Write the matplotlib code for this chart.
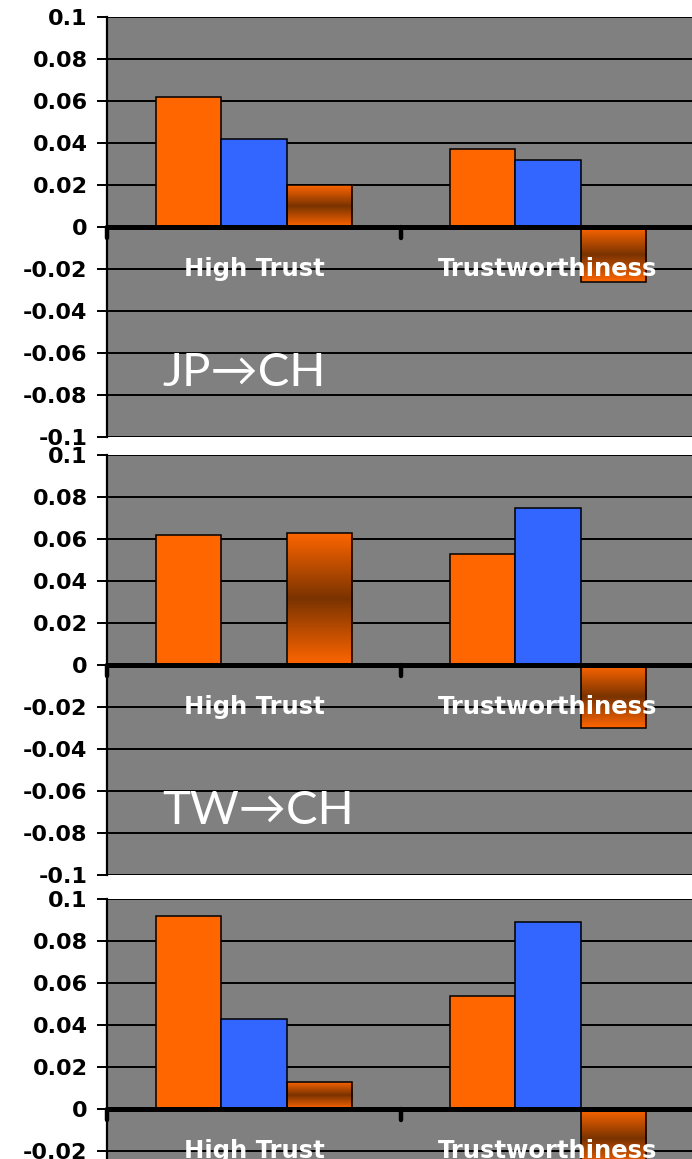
import matplotlib
matplotlib.use("Agg")
import matplotlib.pyplot as plt
import numpy as np
from matplotlib.colors import LinearSegmentedColormap

# Regression coefficients per panel: [High Trust, Trustworthiness]
categories = ["High Trust", "Trustworthiness"]
panel_labels = ["JP→CH", "TW→CH", ""]
orange_vals = [[0.062, 0.037], [0.062, 0.053], [0.092, 0.054]]
blue_vals = [[0.042, 0.032], [0.0, 0.075], [0.043, 0.089]]
shaded_vals = [[0.020, -0.026], [0.063, -0.030], [0.013, -0.028]]

yticks = [0.1, 0.08, 0.06, 0.04, 0.02, 0, -0.02, -0.04, -0.06, -0.08, -0.1]
ytick_labels = ["0.1", "0.08", "0.06", "0.04", "0.02", "0",
                "-0.02", "-0.04", "-0.06", "-0.08", "-0.1"]

ORANGE = "#FF6600"
BLUE = "#3366FF"
BG = "#808080"
shade_cmap = LinearSegmentedColormap.from_list(
    "shade", [ORANGE, "#7A3300", ORANGE])

W, H = 692, 1159
fig = plt.figure(figsize=(W / 100, H / 100), dpi=100)

# panel tops in pixels; every panel is 420 px tall and 588 px wide
panel_tops = [17, 455, 899]
left_px, width_px, height_px = 107, 588, 420

bar_w = 0.223
x = np.arange(len(categories))


def shaded_bar(ax, xc, val):
    rect = ax.bar(xc, val, bar_w, facecolor="none", edgecolor="black",
                  linewidth=1.1, zorder=3)[0]
    grad = np.linspace(0, 1, 256).reshape(-1, 1)
    y0, y1 = sorted([0, val])
    im = ax.imshow(grad, cmap=shade_cmap, aspect="auto", zorder=2,
                   extent=[xc - bar_w / 2, xc + bar_w / 2, y0, y1],
                   origin="lower", interpolation="bilinear")
    im.set_clip_path(rect)


for i, top in enumerate(panel_tops):
    ax = fig.add_axes([left_px / W, 1 - (top + height_px) / H,
                       width_px / W, height_px / H])
    ax.set_facecolor(BG)

    ax.bar(x - bar_w, orange_vals[i], bar_w, color=ORANGE,
           edgecolor="black", linewidth=1.1, zorder=3)
    ax.bar(x, blue_vals[i], bar_w, color=BLUE,
           edgecolor="black", linewidth=1.1, zorder=3)
    for xc, v in zip(x + bar_w, shaded_vals[i]):
        shaded_bar(ax, xc, v)

    ax.set_ylim(-0.1, 0.1)
    ax.set_xlim(-0.5, 1.5)

    for yv in yticks:
        ax.axhline(yv, color="black", linewidth=1.4, zorder=1)
    ax.axhline(0, color="black", linewidth=3.6, zorder=4)
    for xb in [-0.5, 0.5]:
        ax.plot([xb, xb], [0, -0.005], color="black", linewidth=3.2,
                solid_capstyle="round", zorder=4, clip_on=False)

    for spine in ["right", "bottom", "top"]:
        ax.spines[spine].set_visible(False)
    ax.spines["left"].set_linewidth(1.6)
    ax.set_xticks([])
    ax.set_yticks(yticks)
    ax.set_yticklabels(ytick_labels, fontsize=16, fontweight="bold")
    ax.tick_params(axis="y", length=7, width=1.4, pad=7)

    for xc, name in zip(x, categories):
        ax.text(xc, -0.02, name, color="white", fontsize=17.5,
                fontweight="bold", ha="center", va="center", zorder=5)

    if panel_labels[i]:
        ax.text(-0.313, -0.0757, panel_labels[i], color="white",
                fontsize=34, fontweight="normal",
                family=["Lato", "DejaVu Sans"], ha="left", va="baseline",
                zorder=5)

fig.savefig("out.png", dpi=100)
plt.close(fig)
